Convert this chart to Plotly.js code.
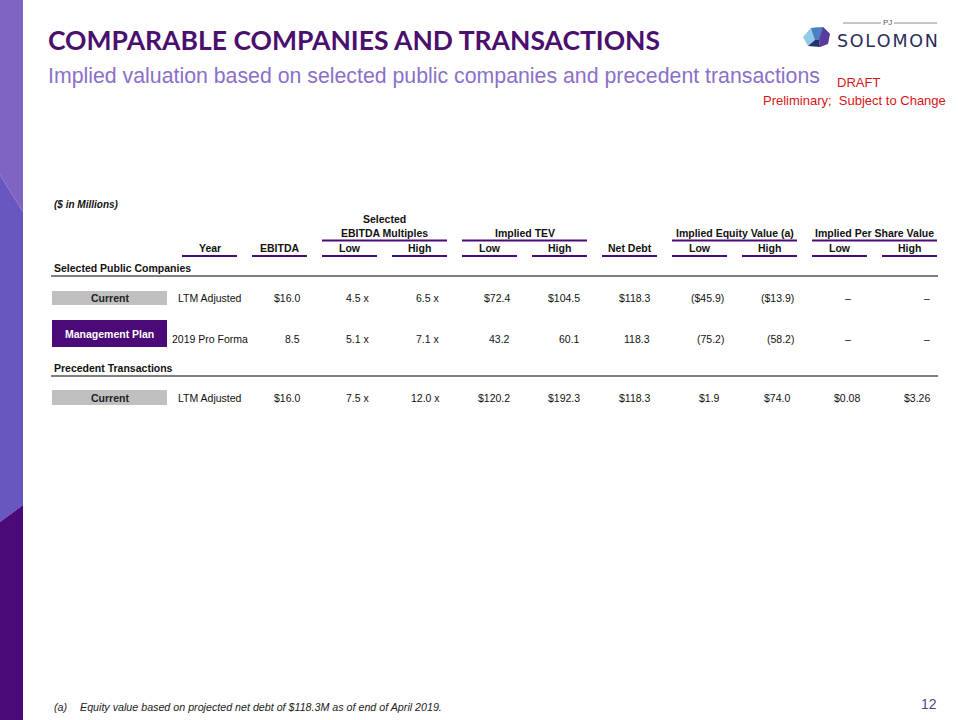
<!DOCTYPE html>
<html><head><meta charset="utf-8">
<script src="https://cdn.plot.ly/plotly-3.0.1.min.js"></script>
<style>html,body{margin:0;padding:0;background:#fff}#chart{width:960px;height:720px}</style>
</head><body><div id="chart"></div>
<script>
// ---------------- DATA ----------------
const slideTitle = "COMPARABLE COMPANIES AND TRANSACTIONS";
const slideSubtitle = "Implied valuation based on selected public companies and precedent transactions";
const unitsNote = "($ in Millions)";
const sections = ["Selected Public Companies", "Precedent Transactions"];
const groupLabels = ["EBITDA Multiples", "Implied TEV", "Implied Equity Value (a)", "Implied Per Share Value"];
const groupStartCol = [2, 4, 7, 9];
const colHeaders = ["Year", "EBITDA", "Low", "High", "Low", "High", "Net Debt", "Low", "High", "Low", "High"];
const scenarios = ["Current", "Management Plan", "Current"];
const rowSection = [0, 0, 1];
const years = ["LTM Adjusted", "2019 Pro Forma", "LTM Adjusted"];
const showDollar = [true, false, true];
const ebitda = [16.0, 8.5, 16.0];
const multLow = [4.5, 5.1, 7.5];
const multHigh = [6.5, 7.1, 12.0];
const tevLow = [72.4, 43.2, 120.2];
const tevHigh = [104.5, 60.1, 192.3];
const netDebt = [118.3, 118.3, 118.3];
const eqLow = [-45.9, -75.2, 1.9];
const eqHigh = [-13.9, -58.2, 74.0];
const psLow = [null, null, 0.08];
const psHigh = [null, null, 3.26];
const footnote = "Equity value based on projected net debt of $118.3M as of end of April 2019.";
const pageNumber = "12";

// ---------------- HELPERS ----------------
const PURPLE = "#4b0a78";
const FONT = "Liberation Sans, Arial, sans-serif";
const TS = 10.5;
function money(v, dollar, dec) {
  if (v === null) return "\u2013";
  const s = (dollar ? "$" : "") + Math.abs(v).toFixed(dec);
  return v < 0 ? "(" + s + ")" : s;
}
function mult(v) { return v.toFixed(1) + " x"; }

const shapes = [];
const ann = [];
function A(o) {
  ann.push(Object.assign({xref: "x", yref: "y", showarrow: false, yanchor: "middle",
    font: {family: FONT, size: TS, color: "#111"}}, o));
}
function rect(x0, y0, x1, y1, color) {
  shapes.push({type: "rect", xref: "x", yref: "y", x0, y0, x1, y1, fillcolor: color, line: {width: 0}, layer: "below"});
}
function line(x0, y0, x1, y1, color, w) {
  shapes.push({type: "line", xref: "x", yref: "y", x0, y0, x1, y1, line: {color, width: w}});
}
function path(p, color) {
  shapes.push({type: "path", xref: "x", yref: "y", path: p, fillcolor: color, line: {width: 0}, layer: "below"});
}

// ---------------- SIDEBAR ----------------
path("M0,0 L23,0 L23,212 L0,175 Z", "#8064c4");
path("M0,175 L23,212 L23,505 L0,522 Z", "#6757bf");
path("M0,522 L23,505 L23,720 L0,720 Z", "#4a0a78");

// ---------------- TITLES ----------------
A({x: 46, y: 40, xanchor: "left", text: "<b>" + slideTitle + "</b>",
   font: {family: "Lato, sans-serif", size: 26.5, color: "#4b0f6e"}});
A({x: 46, y: 76, xanchor: "left", text: slideSubtitle,
   font: {family: FONT, size: 21.3, color: "#8b70c8"}});
A({x: 835, y: 82, xanchor: "left", text: "DRAFT", font: {family: FONT, size: 13, color: "#d7141a"}});
A({x: 948, y: 100, xanchor: "right", text: "Preliminary;  Subject to Change", font: {family: FONT, size: 13, color: "#d7141a"}});

// ---------------- LOGO ----------------
path("M803,37 L811,28 L818,27 L815,40 L808,46 Z", "#8fcbe9");
path("M811,28 L823,27 L830,34 L819,40 L815,40 Z", "#4c7ec2");
path("M823,27 L830,34 L828,44 L820,47 L819,40 Z", "#5a3a9c");
path("M808,46 L815,40 L819,40 L820,47 Z", "#27306e");
line(843, 23, 881, 23, "#8a8a9a", 1);
line(894, 23, 937, 23, "#8a8a9a", 1);
A({x: 887.5, y: 22, xanchor: "center", text: "PJ", font: {family: FONT, size: 8, color: "#555"}});
A({x: 887, y: 41, xanchor: "center", text: "S\u200AO\u200AL\u200AO\u200AM\u200AO\u200AN",
   font: {family: "DejaVu Sans, sans-serif", size: 17.5, color: "#2b2d5c"}});

// ---------------- TABLE ----------------
const colX0 = colHeaders.map((_, i) => 182 + 70 * i);
const colX1 = colX0.map(x => x + 55);
A({x: 52, y: 204, xanchor: "left", text: "<b><i>" + unitsNote + "</i></b>", font: {family: FONT, size: 10, color: "#111"}});
A({x: (colX0[2] + colX1[3]) / 2, y: 218.5, xanchor: "center", text: "<b>Selected</b>"});
groupLabels.forEach((g, k) => {
  const c = groupStartCol[k];
  A({x: (colX0[c] + colX1[c + 1]) / 2, y: 233, xanchor: "center", text: "<b>" + g + "</b>"});
  line(colX0[c], 240.5, colX1[c + 1], 240.5, PURPLE, 2.2);
});
colHeaders.forEach((h, i) => {
  A({x: (colX0[i] + colX1[i]) / 2, y: 248, xanchor: "center", text: "<b>" + h + "</b>"});
  line(colX0[i], 256, colX1[i], 256, PURPLE, 2.2);
});
const secY = [268, 368];
sections.forEach((s, k) => {
  A({x: 52, y: secY[k], xanchor: "left", text: "<b>" + s + "</b>"});
  line(51, secY[k] + 8, 938, secY[k] + 8, "#555", 1.5);
});

const rowY = [298, 339, 398];
const boxY = [[291, 305], [320, 347], [390, 405]];
scenarios.forEach((sc, r) => {
  const isPlan = r === 1;
  rect(52, boxY[r][0], 167, boxY[r][1], isPlan ? PURPLE : "#c0c0c0");
  A({x: 109.5, y: (boxY[r][0] + boxY[r][1]) / 2, xanchor: "center", text: "<b>" + sc + "</b>",
     font: {family: FONT, size: TS, color: isPlan ? "#fff" : "#222"}});
  const d = showDollar[r];
  const cells = [
    money(ebitda[r], d, 1), mult(multLow[r]), mult(multHigh[r]),
    money(tevLow[r], d, 1), money(tevHigh[r], d, 1), money(netDebt[r], d, 1),
    money(eqLow[r], d, 1), money(eqHigh[r], d, 1),
    money(psLow[r], d, 2), money(psHigh[r], d, 2)
  ];
  A({x: (colX0[0] + colX1[0]) / 2, y: rowY[r], xanchor: "center", text: years[r]});
  cells.forEach((t, j) => {
    const c = j + 1;
    let xr = colX1[c] - 5;
    if (t.endsWith(")")) xr += 4;
    if (t === "\u2013" && c === 9) xr -= 9;
    A({x: xr, y: rowY[r], xanchor: "right", text: t});
  });
});

// ---------------- FOOTER ----------------
A({x: 52, y: 707, xanchor: "left", text: "<i>(a)</i>", font: {family: FONT, size: 10.7, color: "#222"}});
A({x: 78, y: 707, xanchor: "left", text: "<i>" + footnote + "</i>", font: {family: FONT, size: 10.7, color: "#222"}});
A({x: 939, y: 704, xanchor: "right", text: pageNumber, font: {family: FONT, size: 14, color: "#5b3f8f"}});

// ---------------- RENDER ----------------
const layout = {
  width: 960, height: 720,
  margin: {l: 0, r: 0, t: 0, b: 0},
  paper_bgcolor: "#fff", plot_bgcolor: "#fff",
  showlegend: false,
  xaxis: {range: [0, 960], visible: false, fixedrange: true},
  yaxis: {range: [720, 0], visible: false, fixedrange: true},
  shapes, annotations: ann
};
Plotly.newPlot("chart", [{x: [], y: [], type: "scatter", mode: "markers", hoverinfo: "skip"}], layout,
  {staticPlot: true, displayModeBar: false});
</script>
</body></html>
